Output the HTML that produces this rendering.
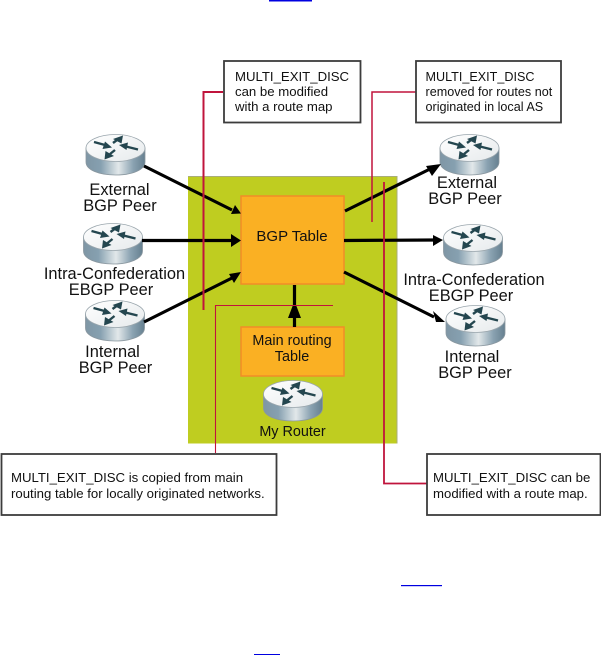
<!DOCTYPE html>
<html><head><meta charset="utf-8">
<style>
html,body{margin:0;padding:0;background:#fff;width:601px;height:655px;overflow:hidden}
svg{display:block;position:absolute;left:0;top:0;filter:blur(.35px)}
text{font-family:"Liberation Sans",sans-serif;fill:#111}
.l{font-size:16.4px;text-anchor:middle}
.s{font-size:13.2px}
.r{font-size:12.6px}
</style></head><body>
<svg width="601" height="655" viewBox="0 0 601 655" xmlns="http://www.w3.org/2000/svg">
<defs>
<linearGradient id="cyl" x1="0" x2="1" y1="0" y2="0">
<stop offset="0" stop-color="#7f96a5"/><stop offset=".25" stop-color="#86a0b0"/><stop offset=".55" stop-color="#e2e8ea"/><stop offset=".8" stop-color="#8aa2b1"/><stop offset="1" stop-color="#668090"/>
</linearGradient>
<linearGradient id="top" x1="0" x2="1" y1="0" y2="1">
<stop offset="0" stop-color="#ffffff"/><stop offset="1" stop-color="#e6eaec"/>
</linearGradient>
<g id="router">
<path d="M0 14 V28 C0 36 13 41 29.500 41 C46 41 59 36 59 28 V14 Z" fill="url(#cyl)" stroke="#8a979f" stroke-width=".8"/>
<ellipse cx="29.500" cy="14" rx="29.500" ry="13.500" fill="url(#top)" stroke="#9aa6ad" stroke-width=".8"/>
<g stroke="#24464f" stroke-width="2.400" fill="#24464f">
<path d="M8 8 L19 11" /><path d="M26 13.500 L16.500 15 L19 7.500 Z" stroke="none"/>
<path d="M52 15.500 L40 12.500" /><path d="M33 11 L42 8.500 L40.500 16 Z" stroke="none"/>
<path d="M27 9 L31 6" /><path d="M37 1.500 L35.500 9.500 L27 5 Z" stroke="none"/>
<path d="M29 16 L24 20" /><path d="M18.500 25.500 L19.500 17 L28 22 Z" stroke="none"/>
</g>
</g>
</defs>

<rect x="269" y="0" width="43" height="1.500" fill="#0000e0"/>
<rect x="254" y="654" width="26" height="1" fill="#0000e0"/>
<rect x="401" y="585" width="41" height="1.200" fill="#0000e0"/>

<rect x="188" y="176.500" width="209" height="267" fill="#bfcd20"/>
<path d="M188 176.500 H397 V443.500" fill="none" stroke="#a9ad7a" stroke-width="1"/>
<rect x="241" y="196" width="103" height="88" fill="#fab023" stroke="#f28c28" stroke-width="1.500"/>
<rect x="241" y="327" width="103" height="49" fill="#fab023" stroke="#f28c28" stroke-width="1.500"/>

<use href="#router" x="86" y="134"/>
<use href="#router" x="83.500" y="223"/>
<use href="#router" x="85.500" y="300"/>
<use href="#router" x="440" y="134"/>
<use href="#router" x="443.500" y="224"/>
<use href="#router" x="446" y="305"/>
<use href="#router" x="263.500" y="380"/>

<g stroke="#000" stroke-width="3.200" fill="none">
<path d="M144 166 L232 210"/>
<path d="M142 240.500 L232 240.500"/>
<path d="M144 322 L232 278"/>
<path d="M345 211 L430 169"/>
<path d="M344 240.500 L434 240"/>
<path d="M344 272 L434 317"/>
<path d="M294.500 285 L294.500 327"/>
</g>
<g fill="#000">
<path d="M241 213.500 L235 205 L231 214 Z"/>
<path d="M241 240.500 L231 234 L231 247 Z"/>
<path d="M241 272 L229 274 L234 283 Z"/>
<path d="M441 164 L426 166 L432 176 Z"/>
<path d="M443 240 L433 235 L433 246 Z"/>
<path d="M445 322 L433 311 L436 322 Z"/>
<path d="M294.500 301 L288 318 L301 318 Z"/>
</g>

<g fill="none" stroke="#c0143c">
<path d="M223 92 H203.500 V310" stroke-width="2"/>
<path d="M416 92 H372 V222" stroke-width="1.500"/>
<path d="M384 182 V483.500 H427" stroke-width="1.800"/>
<path d="M215.500 453 V305.500 H333" stroke-width="1.100"/>
</g>

<g fill="#fff" stroke="#3c3c3c" stroke-width="1.800">
<rect x="224" y="61" width="136.500" height="61.500"/>
<rect x="416" y="61" width="145" height="61.500"/>
<rect x="1.500" y="454" width="275" height="61"/>
<rect x="427" y="454" width="173.500" height="61"/>
</g>

<text class="s" x="235" y="81">MULTI_EXIT_DISC</text>
<text class="s" x="235" y="96">can be modified</text>
<text class="s" x="235" y="111">with a route map</text>
<text class="r" x="425.500" y="81">MULTI_EXIT_DISC</text>
<text class="r" x="425.500" y="96">removed for routes not</text>
<text class="r" x="425.500" y="111">originated in local AS</text>
<text class="s" x="11" y="482">MULTI_EXIT_DISC is copied from main</text>
<text class="s" x="11" y="498">routing table for locally originated networks.</text>
<text class="s" x="433" y="482">MULTI_EXIT_DISC can be</text>
<text class="s" x="433" y="498">modified with a route map.</text>

<text class="l" x="119.500" y="195">External</text>
<text class="l" x="120" y="211">BGP Peer</text>
<text class="l" x="114.500" y="279">Intra-Confederation</text>
<text class="l" x="111" y="295">EBGP Peer</text>
<text class="l" x="112.500" y="357">Internal</text>
<text class="l" x="115.500" y="373">BGP Peer</text>
<text class="l" x="467" y="188">External</text>
<text class="l" x="465" y="204">BGP Peer</text>
<text class="l" x="474" y="285">Intra-Confederation</text>
<text class="l" x="471" y="301">EBGP Peer</text>
<text class="l" x="472" y="362">Internal</text>
<text class="l" x="475" y="378">BGP Peer</text>
<text class="l" x="292" y="241" style="font-size:15px">BGP Table</text>
<text class="l" x="292" y="345" style="font-size:14.400px">Main routing</text>
<text class="l" x="292" y="361" style="font-size:14.400px">Table</text>
<text class="l" x="292.500" y="436" style="font-size:14.400px">My Router</text>
</svg>
</body></html>
